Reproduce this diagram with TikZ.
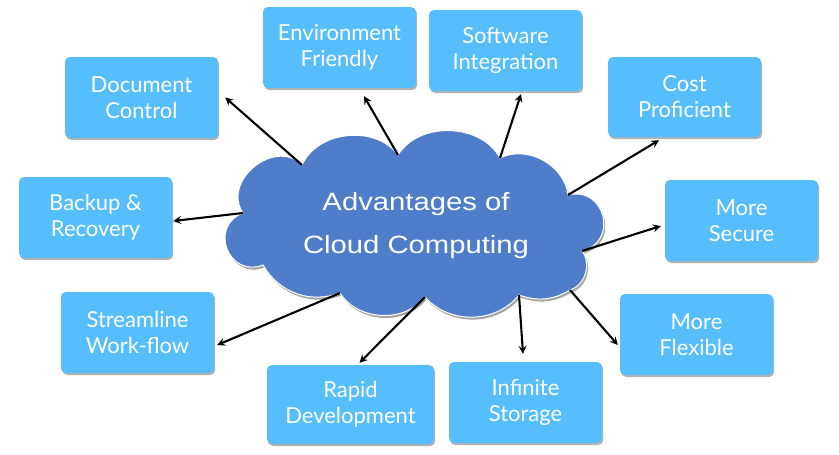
\documentclass[tikz,border=0pt]{standalone}
\usepackage{fontspec}
\newfontfamily\boxfont{Lato}
\newfontfamily\cloudfont{Liberation Sans}
\usetikzlibrary{arrows.meta,shadows,calc}
\definecolor{boxblue}{RGB}{86,190,253}
\definecolor{cloudblue}{RGB}{79,125,201}
\tikzset{
  benefit/.style={fill=boxblue, rounded corners=5pt, minimum width=153pt, minimum height=81pt,
    inner sep=0pt, align=center, text=white, font=\boxfont\fontsize{22}{26}\selectfont,
    drop shadow={shadow xshift=1.2pt, shadow yshift=-2pt, opacity=0.3, fill=black}},
  arr/.style={draw=black, line width=2.1pt, -{Stealth[length=8pt,width=8pt,inset=3pt]}},
  cloudbody/.style={fill=cloudblue, draw=white, line width=1pt,
    drop shadow={shadow xshift=1.5pt, shadow yshift=-2.5pt, opacity=0.35, fill=black}},
  cloudtext/.style={text=white, align=center, xscale=1.17, font=\cloudfont\fontsize{25}{43}\selectfont}
}
\begin{document}
\begin{tikzpicture}[x=1pt,y=-1pt]
\useasboundingbox (0,0) rectangle (839,455);
% cloud boundary notch points
\coordinate (p1) at (302,165);
\coordinate (p2) at (398,155);
\coordinate (p3) at (500,158);
\coordinate (p4) at (568,195);
\coordinate (p5) at (582,251);
\coordinate (p6) at (570,290);
\coordinate (p6b) at (519,295);
\coordinate (p7) at (425,297);
\coordinate (p8) at (340,293);
\coordinate (p9) at (263,265);
\coordinate (p10) at (243,213);
\path[cloudbody] (p1) to[bend left=60] (p2) to[bend left=60] (p3) to[bend left=55] (p4)
  to[bend left=90,looseness=1.7] (p5) to[bend left=55] (p6) to[bend left=25] (p6b)
  to[bend left=50] (p7) to[bend left=55] (p8) to[bend left=40] (p9)
  to[bend left=90,looseness=1.7] (p10) to[bend left=85,looseness=1.3] (p1) -- cycle;
\node[cloudtext] (title) at (416,226) {Advantages of\\Cloud Computing};

% boxes
\node[benefit] (doc) at (141.5,97.5) {Document\\Control};
\node[benefit] (env) at (339.5,47.5) {Environment\\Friendly};
\node[benefit] (soft) at (505.5,50.5) {Software\\Integration};
\node[benefit,minimum height=80pt] (cost) at (684.5,97) {Cost\\Proficient};
\node[benefit] (backup) at (95.5,217.5) {Backup \&\\Recovery};
\node[benefit] (secure) at (741.5,220.5) {More\\Secure};
\node[benefit] (stream) at (137.5,332.5) {Streamline\\Work-flow};
\node[benefit] (flex) at (696.5,334.5) {More\\Flexible};
\node[benefit] (inf) at (525.5,402.5) {Infinite\\Storage};
\node[benefit,minimum width=167pt,minimum height=79pt] (rapid) at (350.5,404.5) {Rapid\\Development};

% connectors
\draw[arr] (p1) -- ($(doc.east)+(7,0)$);
\draw[arr] (p2) -- ($(env.south)+(24.5,8)$);
\draw[arr] (p3) -- ($(soft.south)+(15.5,3)$);
\draw[arr] (p4) -- ($(cost.south)+(-25.5,3)$);
\draw[arr] (p5) -- ($(secure.west)+(-4,5.5)$);
\draw[arr] (p6) -- ($(flex.west)+(-2,10.5)$);
\draw[arr] (p6b) -- ($(inf.north)+(-2.5,-8)$);
\draw[arr] (p7) -- ($(rapid.north)+(9,-2)$);
\draw[arr] (p8) -- ($(stream.east)+(3,12.5)$);
\draw[arr] (p10) -- ($(backup.east)+(1,3.5)$);
\end{tikzpicture}
\end{document}
